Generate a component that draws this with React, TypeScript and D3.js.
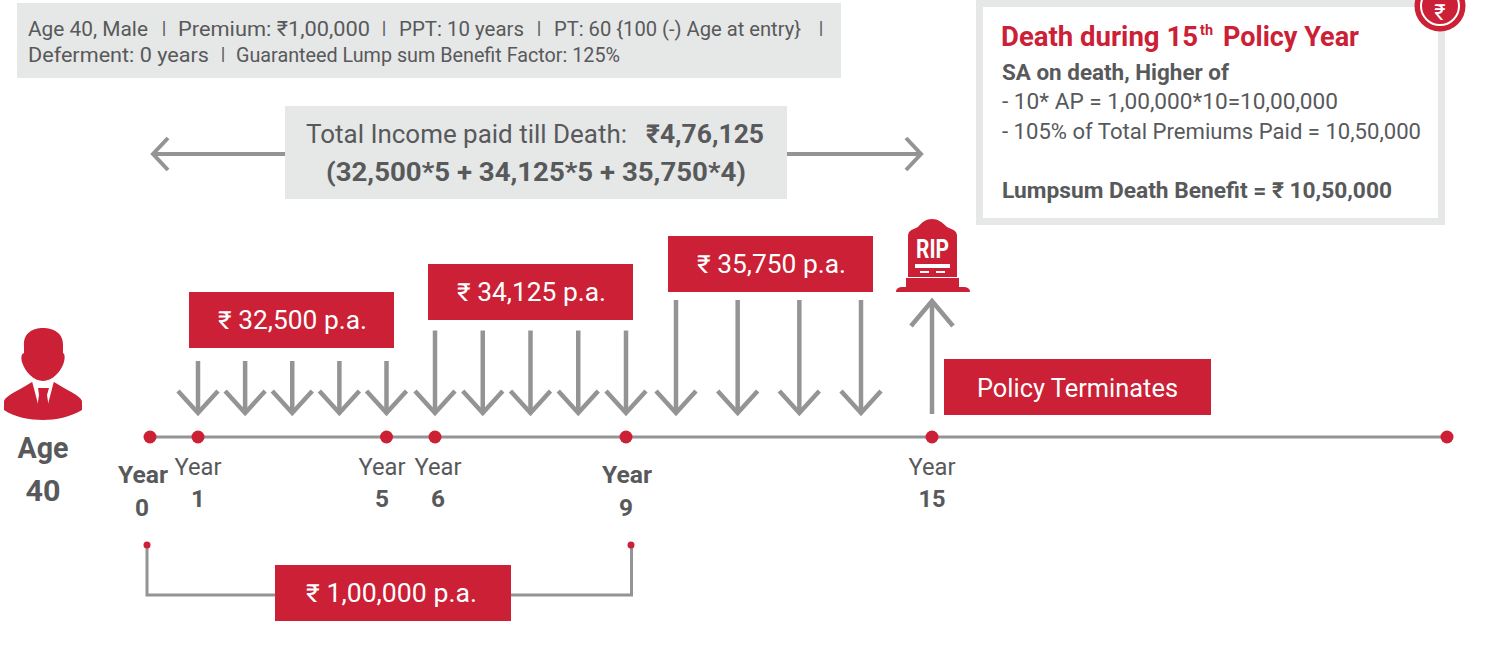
import React from "react";
import * as d3 from "d3";

// policy steps on the time line (the picture is not linear in years, so the scale is piecewise)
const timelineSteps = [0, 1, 5, 6, 10, 15, 25];
const timelineLabels = ["Year 0", "Year 1", "Year 5", "Year 6", "Year 9", "Year 15", ""];
const boldLabels = ["Year 0", "Year 9"];
const stepDomain = [0, 1, 5, 6, 10, 11, 14, 15, 25];
const stepRange = [150, 198, 386.5, 435, 626, 676, 861, 932, 1447];

const incomeSteps = [1, 2, 3, 4, 5, 6, 7, 8, 9, 10, 11, 12, 13, 14];
const incomeValues = [32500, 32500, 32500, 32500, 32500, 34125, 34125, 34125, 34125, 34125, 35750, 35750, 35750, 35750];
const incomeBands = [32500, 34125, 35750];
const incomeBandLabels = ["₹ 32,500 p.a.", "₹ 34,125 p.a.", "₹ 35,750 p.a."];

const infoLine1 = ["Age 40, Male", "I", "Premium: ₹1,00,000", "I", "PPT: 10 years", "I", "PT: 60 {100 (-) Age at entry}", "I"];
const infoLine2 = ["Deferment: 0 years", "I", "Guaranteed Lump sum Benefit Factor: 125%"];

const RED = "#cb2035";
const GREY = "#949494";
const TEXT = "#58595b";
const PANEL = "#e6e7e7";
const FONT = "Roboto, 'Noto Sans', 'DejaVu Sans', sans-serif";

const x = d3.scaleLinear().domain(stepDomain).range(stepRange);
const bandTop = d3.scaleLinear().domain([32500, 35750]).range([292, 236]);
const arrowTop = d3.scaleLinear().domain([32500, 35750]).range([361, 300]);
const line = d3.line();

function T({ x, y, w, size = 22, bold = false, fill = TEXT, children }: any) {
  return (
    <text x={x} y={y} fontFamily={FONT} fontSize={size} fontWeight={bold ? 700 : 400} fill={fill}
      textLength={w} lengthAdjust="spacingAndGlyphs">
      {children}
    </text>
  );
}

function Centered({ x, y, size = 22, bold = false, fill = TEXT, w, children }: any) {
  return <T x={x - w / 2} y={y} w={w} size={size} bold={bold} fill={fill}>{children}</T>;
}

function Arrow({ cx, top, bottom, up = false, head = 20, width = 4.5 }: any) {
  const tip = up ? top : bottom;
  const back = up ? tip + head + 4 : tip - head - 2;
  return (
    <g fill="none" stroke={GREY} strokeWidth={width}>
      <path d={line([[cx, top], [cx, bottom]])!} />
      <path d={line([[cx - head, back], [cx, tip], [cx + head, back]])!} />
    </g>
  );
}

function Person() {
  return (
    <g>
      <path fill={RED} d="M24,346 C23,333 33,328 43,328 C53,328 64,333 63,346 L63,353 C65,354 65,358 64,362 C61,372 52,381 43,381 C34,381 25,372 22,362 C21,358 21,354 24,353 Z" />
      <path fill={RED} d="M4,401 C6,395 20,390 32,382 L54,382 C66,390 80,395 82,401 L82,410 C70,417 56,420 43,420 C30,420 14,417 4,410 Z" />
      <path fill="#fff" d="M32,381 L54,381 L47,408 L39,408 Z" />
      <path fill={RED} d="M38,388 L49,388 L47,395 L49,408 L37,408 L39,395 Z" />
    </g>
  );
}

function Grave() {
  return (
    <g>
      <path d="M908,277 L908,236 C908,230 914,229 918,227 C922,222 926,219 932,219 C938,219 942,222 947,227 C951,229 957,230 957,236 L957,277 Z" fill={RED} />
      <path d="M906,278 L959,278 L959,287 L906,287 Z M896,291 C897,288 899,287 902,287 L964,287 C967,287 969,288 970,291 L970,292 L896,292 Z" fill={RED} />
      <text x={932.5} y={258} textAnchor="middle" fontFamily={FONT} fontWeight={700} fontSize={25} fill="#fff" textLength={33} lengthAdjust="spacingAndGlyphs">RIP</text>
      <rect x={915} y={264} width={35} height={4} fill="#fff" />
      <rect x={920} y={271} width={9} height={2} fill="#fff" />
      <rect x={936} y={271} width={9} height={2} fill="#fff" />
    </g>
  );
}

export default function App() {
  const bandX = [189, 428, 668];
  const yearY = (l: string) => (boldLabels.includes(l) ? [483, 516] : [475, 507]);
  const labelCx: Record<string, number> = { "Year 0": 143, "Year 1": 198, "Year 5": 382, "Year 6": 438, "Year 9": 627, "Year 15": 932 };
  const info1X = [[28, 120], [162, 4], [178, 192], [382, 4], [399, 125], [537, 4], [554, 247], [819, 4]];
  const info2X = [[28, 181], [221, 4], [236, 384]];

  return (
    <svg width={1507} height={645} style={{ position: "absolute", left: 0, top: 0, display: "block", background: "#fff" }}>
      {/* assumptions */}
      <rect x={17} y={3} width={824} height={75} fill={PANEL} />
      {infoLine1.map((s, i) => <T key={i} x={info1X[i][0]} y={36} w={info1X[i][1]} size={21}>{s}</T>)}
      {infoLine2.map((s, i) => <T key={i} x={info2X[i][0]} y={62} w={info2X[i][1]} size={i === 2 ? 20 : 21}>{s}</T>)}

      {/* total income band */}
      <Arrow2 />
      <rect x={285} y={106} width={502} height={93} fill={PANEL} />
      <T x={306} y={143} w={321} size={26}>Total Income paid till Death:</T>
      <T x={646} y={143} w={118} size={26} bold>₹4,76,125</T>
      <T x={326} y={181} w={420} size={26} bold>(32,500*5 + 34,125*5 + 35,750*4)</T>

      {/* death panel */}
      <rect x={979.5} y={3.5} width={462} height={218} fill="#fff" stroke={PANEL} strokeWidth={7} />
      <T x={1001} y={46} w={197} size={27} bold fill={RED}>Death during 15</T>
      <T x={1200} y={35} w={13} size={15} bold fill={RED}>th</T>
      <T x={1223} y={46} w={136} size={27} bold fill={RED}>Policy Year</T>
      <T x={1002} y={80} w={227} size={22} bold>SA on death, Higher of</T>
      <T x={1002} y={109} w={336} size={22}>- 10* AP = 1,00,000*10=10,00,000</T>
      <T x={1002} y={139} w={419} size={22}>- 105% of Total Premiums Paid = 10,50,000</T>
      <T x={1002} y={198} w={390} size={22} bold>Lumpsum Death Benefit = ₹ 10,50,000</T>
      <circle cx={1440} cy={6} r={25.5} fill={RED} />
      <circle cx={1440} cy={6} r={19} fill="none" stroke="#fff" strokeWidth={2} />
      <text x={1440} y={20} textAnchor="middle" fontFamily={FONT} fontSize={22} fill="#fff">₹</text>

      {/* income arrows and bands */}
      {incomeSteps.map((s, i) => (
        <Arrow key={s} cx={x(s)} top={arrowTop(incomeValues[i])} bottom={413} />
      ))}
      {incomeBands.map((v, i) => (
        <g key={v}>
          <rect x={bandX[i]} y={bandTop(v)} width={205} height={56} fill={RED} />
          <T x={bandX[i] + 29} y={bandTop(v) + 37} w={149} size={25} fill="#fff">{incomeBandLabels[i]}</T>
        </g>
      ))}

      {/* death marker */}
      <Grave />
      <Arrow cx={x(15)} top={301} bottom={414} up head={21} />
      <rect x={944} y={359} width={267} height={56} fill={RED} />
      <T x={977} y={397} w={201} size={25} fill="#fff">Policy Terminates</T>

      {/* time line */}
      <path d={line([[x(0), 437], [x(25), 437]])!} stroke={GREY} strokeWidth={3} fill="none" />
      {timelineSteps.map((s) => <circle key={s} cx={x(s)} cy={437} r={6.5} fill={RED} />)}
      {timelineLabels.filter(Boolean).map((l) => {
        const [word, num] = l.split(" ");
        const bold = boldLabels.includes(l);
        const [y1, y2] = yearY(l);
        return (
          <g key={l}>
            <Centered x={labelCx[l]} y={y1} w={bold ? 50 : 47} size={24} bold={bold}>{word}</Centered>
            <Centered x={l === "Year 0" ? 142 : l === "Year 9" ? 626 : labelCx[l]} y={y2} w={num.length > 1 ? 27 : 14} size={24} bold>{num}</Centered>
          </g>
        );
      })}

      <Person />
      <Centered x={43} y={458} w={51} size={30} bold>Age</Centered>
      <Centered x={43} y={501} w={35} size={30} bold>40</Centered>

      {/* premium paying bracket */}
      <path d={line([[147, 545], [147, 595], [631.5, 595], [631.5, 545]])!} fill="none" stroke={GREY} strokeWidth={3} />
      <circle cx={147} cy={545} r={3.5} fill={RED} />
      <circle cx={631} cy={545} r={3.5} fill={RED} />
      <rect x={275} y={565} width={236} height={56} fill={RED} />
      <T x={306} y={602} w={171} size={25} fill="#fff">₹ 1,00,000 p.a.</T>
    </svg>
  );
}

function Arrow2() {
  return (
    <g fill="none" stroke={GREY} strokeWidth={4}>
      <path d={line([[153, 154], [921, 154]])!} />
      <path d={line([[168, 138], [153, 154], [168, 170]])!} />
      <path d={line([[906, 138], [921, 154], [906, 170]])!} />
    </g>
  );
}
